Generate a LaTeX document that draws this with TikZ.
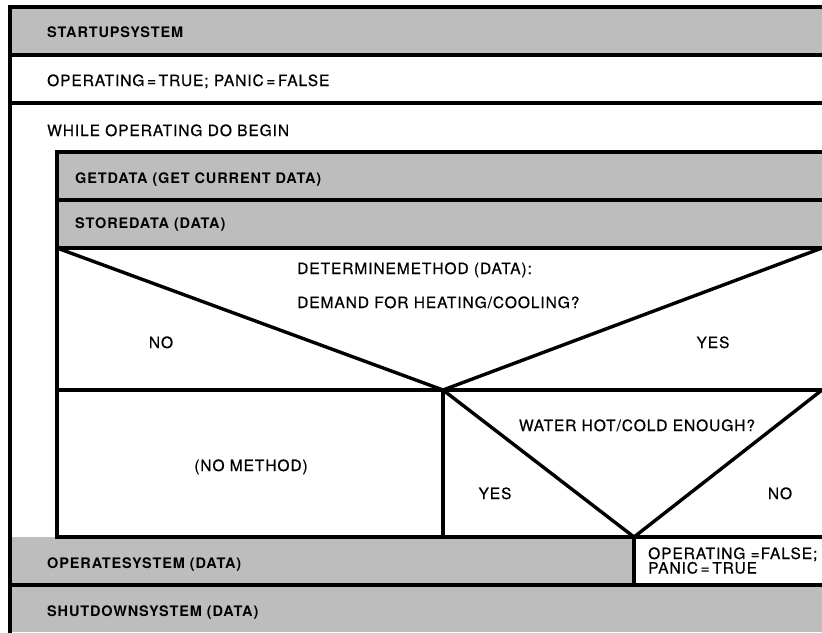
\documentclass[tikz,border=0pt]{standalone}
\usepackage{fontspec}
\setmainfont{TeX Gyre Heros}
\newfontfamily\medfont[FakeBold=0.6,LetterSpace=6]{TeX Gyre Heros}
\newfontfamily\boldfont[LetterSpace=6]{TeX Gyre Heros Bold}
\definecolor{halftone}{gray}{0.74}
\begin{document}
\begin{tikzpicture}[x=1pt,y=-1pt,
  rule/.style={line width=3.6pt,line cap=rect},
  diag/.style={line width=3.4pt},
  shade/.style={fill=halftone},
  lbl/.style={inner sep=0pt,anchor=base west,font=\fontsize{15.5}{18}\medfont},
  blbl/.style={inner sep=0pt,anchor=base west,font=\fontsize{14.5}{18}\boldfont},
  clbl/.style={inner sep=0pt,anchor=base,font=\fontsize{15.5}{18}\medfont}]
\useasboundingbox (0,0) rectangle (822,632);
% shaded bands
\fill[shade] (10,7) rectangle (822,55);
\fill[shade] (57,152) rectangle (822,248);
\fill[shade] (10,537) rectangle (634,585);
\fill[shade] (10,585) rectangle (822,632);
% named corner coordinates
\coordinate (ol) at (10,7);
\coordinate (olb) at (10,632);
\coordinate (il) at (57,152);
\coordinate (ilb) at (57,537);
\coordinate (d1l) at (57,248);
\coordinate (d1r) at (822,248);
\coordinate (d1v) at (443,390);
\coordinate (d2l) at (443,390);
\coordinate (d2r) at (822,390);
\coordinate (d2v) at (634,537);
% horizontal rules
\draw[rule] (10,7) -- (822,7);
\draw[rule] (10,55) -- (822,55);
\draw[rule] (10,103) -- (822,103);
\draw[rule] (57,152) -- (822,152);
\draw[rule] (57,200) -- (822,200);
\draw[rule] (57,248) -- (822,248);
\draw[rule] (57,390) -- (822,390);
\draw[rule] (57,537) -- (822,537);
\draw[rule] (10,585) -- (822,585);
% verticals
\draw[rule] (ol) -- (olb);
\draw[rule] (il) -- (ilb);
\draw[rule] (d1v) -- (443,537);
\draw[rule] (d2v) -- (634,585);
% decision diagonals
\draw[diag] (d1l) -- (d1v) -- (d1r);
\draw[diag] (d2l) -- (d2v) -- (d2r);
% texts
\node[blbl] (t1) at (47,37.5) {STARTUPSYSTEM};
\node[lbl] (t2) at (47,86) {OPERATING\,=\,TRUE; PANIC\,=\,FALSE};
\node[lbl] (t3) at (47,136) {WHILE OPERATING DO BEGIN};
\node[blbl] (t4) at (75,183) {GETDATA (GET CURRENT DATA)};
\node[blbl] (t5) at (75,228) {STOREDATA (DATA)};
\node[lbl] (t6) at (297,274) {DETERMINEMETHOD (DATA):};
\node[lbl] (t7) at (297,308) {DEMAND FOR HEATING/COOLING?};
\node[clbl] (t8) at (161,348) {NO};
\node[clbl] (t9) at (713,348) {YES};
\node[clbl] (t10) at (251,471) {(NO METHOD)};
\node[clbl] (t11) at (637,431) {WATER HOT/COLD ENOUGH?};
\node[clbl] (t12) at (495,499) {YES};
\node[clbl] (t13) at (780,499) {NO};
\node[blbl] (t14) at (47,568) {OPERATESYSTEM (DATA)};
\node[lbl] (t15) at (648,559) {OPERATING =FALSE;};
\node[lbl] (t16) at (648,573.5) {PANIC\,=\,TRUE};
\node[blbl] (t17) at (47,616) {SHUTDOWNSYSTEM (DATA)};
\end{tikzpicture}
\end{document}
